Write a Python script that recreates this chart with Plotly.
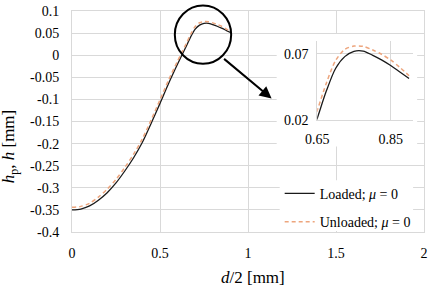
import plotly.graph_objects as go

# ---- data ----
x_half_d = [0, 0.05, 0.1, 0.15, 0.2, 0.25, 0.3, 0.35, 0.4, 0.45, 0.5, 0.55, 0.6,
            0.65, 0.675, 0.7, 0.725, 0.75, 0.775, 0.8, 0.825, 0.85, 0.875, 0.9]
h_loaded = [-0.350, -0.348, -0.341, -0.328, -0.311, -0.289, -0.262, -0.232, -0.197,
            -0.154, -0.109, -0.063, -0.020, 0.021, 0.042, 0.059, 0.068, 0.0720,
            0.0722, 0.0692, 0.0655, 0.0612, 0.0563, 0.0514]
h_unloaded = [-0.344, -0.342, -0.335, -0.321, -0.303, -0.281, -0.254, -0.224, -0.189,
              -0.146, -0.101, -0.055, -0.013, 0.027, 0.048, 0.065, 0.0735, 0.0760,
              0.0758, 0.0732, 0.0698, 0.0655, 0.0598, 0.0535]

x_ticks = [0, 0.5, 1, 1.5, 2]
x_ticktext = ["0", "0.5", "1", "1.5", "2"]
y_ticks = [0.1, 0.05, 0, -0.05, -0.1, -0.15, -0.2, -0.25, -0.3, -0.35, -0.4]
y_ticktext = ["0.1", "0.05", "0", "-0.05", "-0.1", "-0.15", "-0.2", "-0.25", "-0.3", "-0.35", "-0.4"]
inset_x_ticks = [0.65, 0.85]
inset_x_ticktext = ["0.65", "0.85"]
inset_y_ticks = [0.02, 0.07]
inset_y_ticktext = ["0.02", "0.07"]

names = ["Loaded; <i>μ</i> = 0", "Unloaded; <i>μ</i> = 0"]

# ---- style ----
FONT = "Liberation Serif"
GRID = "#D9D9D9"
BLACK = "#1a1a1a"
ORANGE = "#EDA57D"

fig = go.Figure()

for xa, ya, show in (("x", "y", True), ("x2", "y2", False)):
    fig.add_trace(go.Scatter(
        x=x_half_d, y=h_loaded, mode="lines", name=names[0], xaxis=xa, yaxis=ya,
        showlegend=show, legendgroup="a",
        line=dict(color=BLACK, width=1.3, shape="spline", smoothing=0.8)))
    fig.add_trace(go.Scatter(
        x=x_half_d, y=h_unloaded, mode="lines", name=names[1], xaxis=xa, yaxis=ya,
        showlegend=show, legendgroup="b",
        line=dict(color=ORANGE, width=1.5, dash="4px,3px", shape="spline", smoothing=0.8)))

fig.update_layout(
    width=432, height=286,
    margin=dict(l=72, r=4, t=10, b=54),
    paper_bgcolor="white", plot_bgcolor="white",
    font=dict(family=FONT, size=14, color="black"),
    xaxis=dict(range=[0, 2], tickvals=x_ticks, ticktext=x_ticktext, showgrid=True,
               gridcolor=GRID, gridwidth=1, zeroline=False, showline=True,
               linecolor=GRID, mirror=True, ticks="", ticklabelstandoff=8,
               tickfont=dict(family=FONT, size=14), domain=[0, 1]),
    yaxis=dict(range=[-0.4, 0.1], tickvals=y_ticks, ticktext=y_ticktext, showgrid=True,
               gridcolor=GRID, gridwidth=1, zeroline=False, showline=True,
               linecolor=GRID, mirror=True, ticks="", ticklabelstandoff=9,
               tickfont=dict(family=FONT, size=14), domain=[0, 1]),
    xaxis2=dict(domain=[0.6966, 0.968], anchor="y2", range=[0.65, 0.91],
                tickvals=inset_x_ticks, ticktext=inset_x_ticktext, showgrid=True,
                gridcolor=GRID, zeroline=False, showline=True, linecolor=GRID,
                ticks="", ticklabelstandoff=6, tickfont=dict(family=FONT, size=14)),
    yaxis2=dict(domain=[0.5077, 0.865], anchor="x2", range=[0.02, 0.08],
                tickvals=inset_y_ticks, ticktext=inset_y_ticktext, showgrid=True,
                gridcolor=GRID, zeroline=False, showline=True, linecolor=GRID,
                ticks="", ticklabelstandoff=5, tickfont=dict(family=FONT, size=14)),
    legend=dict(x=0.590, y=0.245, xanchor="left", yanchor="top",
                bgcolor="rgba(0,0,0,0)", font=dict(family=FONT, size=14),
                tracegroupgap=7, itemwidth=30),
    showlegend=True,
)

# white backgrounds of the inset chart and the legend (cover main gridlines)
fig.add_shape(type="rect", xref="x", yref="y", x0=1.163, x1=1.961, y0=-0.2063, y1=0.0482,
              fillcolor="white", line=dict(width=0), layer="between")
fig.add_shape(type="rect", xref="x", yref="y", x0=1.18, x1=1.938, y0=-0.398, y1=-0.283,
              fillcolor="white", line=dict(width=0), layer="between")

# magnifier circle
fig.add_shape(type="circle", xref="paper", yref="paper",
              x0=0.2921, x1=0.4522, y0=0.7613, y1=1.0248,
              line=dict(color="black", width=2), layer="above")

# arrow
fig.add_annotation(x=0.567, y=0.6036, xref="paper", yref="paper", ax=-49, ay=-41,
                   showarrow=True, arrowhead=2, arrowsize=1.2, arrowwidth=2,
                   arrowcolor="black", text="")

# axis titles
fig.add_annotation(x=0.514, y=-0.206, xref="paper", yref="paper", showarrow=False,
                   text="<i>d</i>/2 [mm]", font=dict(family=FONT, size=17),
                   xanchor="center", yanchor="middle")
fig.add_annotation(x=-0.174, y=0.387, xref="paper", yref="paper", showarrow=False,
                   text="<i>h</i><sub>p</sub>, <i>h</i> [mm]", textangle=-90,
                   font=dict(family=FONT, size=17), xanchor="center", yanchor="middle")

fig.write_html("out.html")
